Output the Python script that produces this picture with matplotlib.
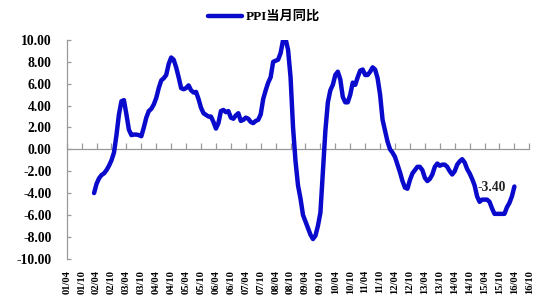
import matplotlib
matplotlib.use("Agg")
import matplotlib.pyplot as plt
import numpy as np

plt.rcParams['axes.unicode_minus'] = False

# months counted from 2001-04 (index 0)
start_month = 11  # 2002-03
ppi = [
    -4.0, -3.15, -2.65, -2.35, -2.2, -1.9, -1.5, -1.0, -0.3, 1.3,      # m11-20
    3.2, 4.4, 4.5, 3.2, 1.8, 1.3, 1.35, 1.35, 1.3, 1.2,                 # m21-30
    2.0, 2.9, 3.5, 3.7, 4.1, 4.7, 5.6, 6.3, 6.5, 6.8,                   # m31-40
    7.8, 8.4, 8.2, 7.5, 6.6, 5.6, 5.5, 5.6, 5.85, 5.4,                  # m41-50
    5.2, 5.25, 4.6, 3.8, 3.3, 3.15, 3.0, 3.0, 2.5, 1.9,                 # m51-60
    2.4, 3.5, 3.6, 3.4, 3.5, 2.9, 2.8, 3.1, 3.3, 2.6,                   # m61-70
    2.7, 2.9, 2.8, 2.5, 2.4, 2.6, 2.7, 3.2, 4.6, 5.4,                   # m71-80
    6.1, 6.6, 8.0, 8.1, 8.2, 8.8, 10.0, 10.1, 9.1, 6.6,                 # m81-90
    2.0, -1.1, -3.3, -4.5, -6.0, -6.6, -7.2, -7.8, -8.2, -7.9,          # m91-100
    -7.0, -5.8, -2.1, 1.7, 4.3, 5.4, 5.9, 6.8, 7.1, 6.4,                # m101-110
    4.8, 4.3, 4.3, 5.0, 6.1, 5.9, 6.6, 7.2, 7.3, 6.8,                   # m111-120
    6.8, 7.1, 7.5, 7.3, 6.5, 5.0, 2.7, 1.7, 0.7, 0.0,                   # m121-130
    -0.3, -0.7, -1.4, -2.1, -2.9, -3.5, -3.6, -2.8, -2.2, -1.9,         # m131-140
    -1.6, -1.6, -1.9, -2.6, -2.9, -2.7, -2.3, -1.6, -1.3, -1.5,         # m141-150
    -1.4, -1.4, -1.6, -2.0, -2.3, -2.0, -1.4, -1.1, -0.9, -1.2,         # m151-160
    -1.8, -2.2, -2.7, -3.3, -4.3, -4.8, -4.6, -4.6, -4.6, -4.8,         # m161-170
    -5.4, -5.9, -5.9, -5.9, -5.9, -5.9, -5.3, -4.9, -4.3, -3.4,         # m171-180
]
months = list(range(start_month, start_month + len(ppi)))

tick_labels = [f"{y:02d}/{mm}" for y in range(1, 17) for mm in ("04", "10")]
tick_months = [6 * i for i in range(len(tick_labels))]
y_ticks = [-10, -8, -6, -4, -2, 0, 2, 4, 6, 8, 10]
series_name = "PPI当月同比"
last_label = "-3.40"

fig = plt.figure(figsize=(5.5, 3.0), dpi=100)
ax = fig.add_axes([0.1213, 0.1377, 0.8411, 0.729])

line_color = "#0A0ACD"
ax.plot(months, ppi, color=line_color, lw=3.2, solid_joinstyle='round',
        solid_capstyle='round', label=series_name, zorder=3)

ax.set_xlim(0, 186)
ax.set_ylim(-10, 10)

grey = "#9A9A9A"
for s in ("top", "right"):
    ax.spines[s].set_visible(False)
ax.spines['left'].set_color(grey)
ax.spines['left'].set_linewidth(0.9)
ax.spines['bottom'].set_position(('data', 0))
ax.spines['bottom'].set_color(grey)
ax.spines['bottom'].set_linewidth(0.9)

ax.set_xticks(tick_months)
ax.tick_params(axis='x', direction='in', length=4, color=grey, width=0.9,
               labelbottom=False)
ax.set_yticks(y_ticks)
ax.set_yticklabels([f"{v:.2f}" for v in y_ticks], fontfamily='Liberation Serif',
                   fontweight='bold', fontsize=9.8)
ax.tick_params(axis='y', direction='in', length=3, color=grey, width=0.9, pad=11)

sec = ax.secondary_xaxis('bottom')
sec.set_xticks(tick_months)
sec.set_xticklabels(tick_labels, rotation=90, fontfamily='Liberation Serif',
                    fontweight='bold', fontsize=7.6)
sec.tick_params(length=0, pad=8)
sec.spines['bottom'].set_visible(False)

ax.annotate(last_label, xy=(months[-1], ppi[-1]), xytext=(-9, -1),
            textcoords='offset pixels', ha='right', va='center',
            fontfamily='Liberation Serif', fontweight='bold', fontsize=9.8,
            color='#222222', zorder=2)

leg = fig.legend(loc='center', bbox_to_anchor=(264 / 550, 1 - 17 / 300),
                 frameon=False, handlelength=2.6, handletextpad=0.25,
                 prop={'family': ['Liberation Serif', 'Noto Sans CJK SC'],
                       'weight': 'bold', 'size': 9.5})

fig.savefig("out.png", dpi=100, facecolor='white')
